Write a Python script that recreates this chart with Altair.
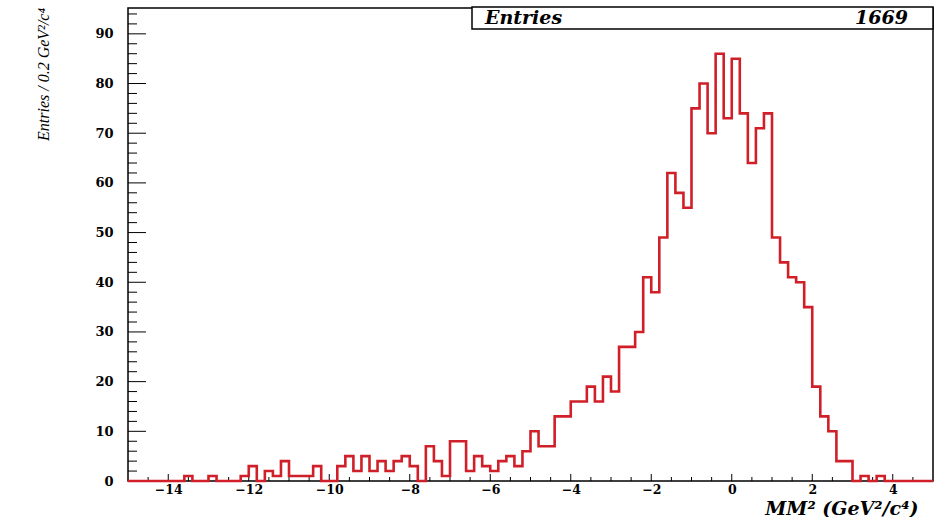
import altair as alt
import pandas as pd

# Missing-mass-squared histogram: 100 bins of 0.2 GeV^2/c^4 from -15 to 5
x_lo = -15.0
bin_w = 0.2
counts = [
    0, 0, 0, 0, 0, 0, 0, 1, 0, 0,            # -15.0 .. -13.2
    1, 0, 0, 0, 1, 3, 0, 2, 1, 4,            # -13.0 .. -11.2
    1, 1, 1, 3, 0, 0, 3, 5, 2, 5,            # -11.0 .. -9.2
    2, 4, 2, 4, 5, 3, 0, 7, 4, 1,            # -9.0 .. -7.2
    8, 8, 2, 5, 3, 2, 4, 5, 3, 6,            # -7.0 .. -5.2
    10, 7, 7, 13, 13, 16, 16, 19, 16, 21,    # -5.0 .. -3.2
    18, 27, 27, 30, 41, 38, 49, 62, 58, 55,  # -3.0 .. -1.2
    75, 80, 70, 86, 73, 85, 74, 64, 71, 74,  # -1.0 .. 0.8
    49, 44, 41, 40, 35, 19, 13, 10, 4, 4,    # 1.0 .. 2.8
    0, 1, 0, 1, 0, 0, 0, 0, 0, 0,            # 3.0 .. 4.8
]
entries_label = "1669"

x_major = [-14, -12, -10, -8, -6, -4, -2, 0, 2, 4]
x_minor = [v / 2 for v in range(-29, 10) if v % 4 != 0]
y_major = [0, 10, 20, 30, 40, 50, 60, 70, 80, 90]
y_minor = [v for v in range(2, 95, 2) if v not in y_major]

W, H = 805, 473
RED = "#d01f28"
TICK_FONT = "DejaVu Serif"

edges = [round(x_lo + bin_w * i, 1) for i in range(len(counts) + 1)]
hist = pd.DataFrame({"mm2": edges, "entries": counts + [counts[-1]]})

x_scale = alt.Scale(domain=[-15, 5], nice=False, zero=False)
y_scale = alt.Scale(domain=[0, 95.2], nice=False, zero=True)

# one shared axis definition per channel so the layers merge cleanly
x_axis = alt.Axis(values=x_major, format="d", ticks=False, tickSize=0, domain=False, grid=False,
                  labelFont=TICK_FONT, labelFontSize=12.5, labelFontWeight="bold", labelColor="black",
                  labelPadding=2, labelFlush=False,
                  title="MM² (GeV²/c⁴)", titleFont=TICK_FONT, titleFontSize=19,
                  titleFontWeight="bold", titleFontStyle="italic", titleColor="black",
                  titleAlign="right", titleBaseline="alphabetic", titleX=790, titleY=33)
y_axis = alt.Axis(values=y_major, format="d", ticks=False, tickSize=0, domain=False, grid=False,
                  labelFont=TICK_FONT, labelFontSize=13, labelFontWeight="bold", labelColor="black",
                  labelPadding=15,
                  title="Entries / 0.2 GeV²/c⁴", titleFont="Liberation Serif", titleFontSize=16,
                  titleFontStyle="italic", titleFontWeight="normal", titleColor="black",
                  titleAngle=270, titleAlign="center", titleBaseline="alphabetic",
                  titleX=-80, titleY=66)

# inward-pointing ticks drawn as short rules
xmaj = alt.Chart(pd.DataFrame({"mm2": x_major})).mark_rule(color="black", strokeWidth=1).encode(
    x=alt.X("mm2:Q", scale=x_scale, axis=x_axis), y=alt.value(H - 7), y2=alt.value(H))
xmin = alt.Chart(pd.DataFrame({"mm2": x_minor})).mark_rule(color="black", strokeWidth=1).encode(
    x=alt.X("mm2:Q", scale=x_scale, axis=x_axis), y=alt.value(H - 4), y2=alt.value(H))
ymaj = alt.Chart(pd.DataFrame({"entries": y_major})).mark_rule(color="black", strokeWidth=1).encode(
    y=alt.Y("entries:Q", scale=y_scale, axis=y_axis), x=alt.value(0), x2=alt.value(18))
ymin = alt.Chart(pd.DataFrame({"entries": y_minor})).mark_rule(color="black", strokeWidth=1).encode(
    y=alt.Y("entries:Q", scale=y_scale, axis=y_axis), x=alt.value(0), x2=alt.value(9))

line = alt.Chart(hist).mark_line(interpolate="step-after", color=RED, strokeWidth=2.6).encode(
    x=alt.X("mm2:Q", scale=x_scale, axis=x_axis),
    y=alt.Y("entries:Q", scale=y_scale, axis=y_axis),
)

one = pd.DataFrame({"k": [0]})
box = alt.Chart(one).mark_rect(fill="white", stroke="black", strokeWidth=1.5).encode(
    x=alt.value(344), x2=alt.value(W), y=alt.value(-1), y2=alt.value(21))
stat_name = alt.Chart(one).mark_text(align="left", baseline="alphabetic", font=TICK_FONT, fontSize=19,
                                     fontStyle="italic", fontWeight="bold", color="black").encode(
    x=alt.value(357), y=alt.value(16), text=alt.value("Entries"))
stat_val = alt.Chart(one).mark_text(align="right", baseline="alphabetic", font=TICK_FONT, fontSize=19,
                                    fontStyle="italic", fontWeight="bold", color="black").encode(
    x=alt.value(780), y=alt.value(16), text=alt.value(entries_label))

chart = alt.layer(xmaj, xmin, ymaj, ymin, line, box, stat_name, stat_val).properties(
    width=W, height=H,
    autosize=alt.AutoSizeParams(type="none"),
    padding={"left": 128, "top": 8, "right": 6, "bottom": 36},
    background="white",
).configure_view(stroke="black", strokeWidth=1.5)

chart.save("out.html", embed_options={"renderer": "svg", "actions": False})
